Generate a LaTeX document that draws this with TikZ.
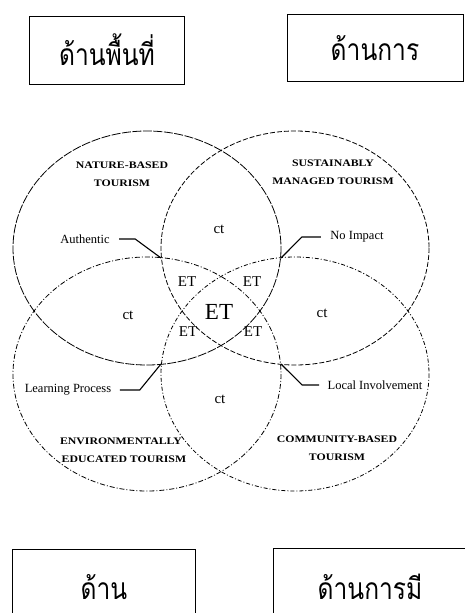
\documentclass[tikz,border=0pt]{standalone}
\usepackage{fontspec}
\setmainfont{Liberation Serif}
\newfontfamily\thaifont[Script=Thai, FakeStretch=0.82]{Loma}
\newfontfamily\capsfont[FakeStretch=1.18]{Liberation Serif}

\begin{document}
\begin{tikzpicture}[x=1pt, y=-1pt,
  every node/.style={font=\fontsize{12.5}{14}\selectfont},
  thaibox/.style={draw, line width=1pt, inner sep=0pt,
    font=\thaifont\fontsize{30}{34}\selectfont},
  zone/.style={font=\capsfont\bfseries\fontsize{10}{12}\selectfont, align=center},
  overlap/.style={font=\fontsize{15}{17}\selectfont},
  leader/.style={line width=1.1pt}]
\clip (0,0) rectangle (465,613);

% Boxes
\node[thaibox, minimum width=155, minimum height=68] (boxA) at (107,50) {ด้านพื้นที่};
\node[thaibox, minimum width=176, minimum height=67] (boxB) at (375,48) {ด้านการ};
\node[thaibox, minimum width=183, minimum height=76] (boxC) at (104,587) {ด้าน};
\node[thaibox, minimum width=194, minimum height=78] (boxD) at (370,587) {ด้านการมี};

% Circles
\draw[line width=0.8pt, dash pattern=on 9pt off 1.5pt] (147,248) ellipse [x radius=134, y radius=117];
\draw[line width=0.8pt, dash pattern=on 5pt off 2pt] (295,248) ellipse [x radius=134, y radius=117];
\draw[line width=0.8pt, dash pattern=on 5pt off 2pt on 1pt off 2pt] (147,374) ellipse [x radius=134, y radius=117];
\draw[line width=0.8pt, dash pattern=on 4pt off 2pt on 1pt off 2pt] (295,374) ellipse [x radius=134, y radius=117];

% Circle names
\node[zone] (nature) at (122,174) {NATURE-BASED\\[6pt]TOURISM};
\node[zone] (managed) at (333,172) {SUSTAINABLY\\[6pt]MANAGED TOURISM};
\node[zone] (educated) at (121,450) {ENVIRONMENTALLY\\[6pt]\ \ EDUCATED TOURISM};
\node[zone] (community) at (337,448) {COMMUNITY-BASED\\[6pt]TOURISM};

% Overlaps
\node[overlap] (ctA) at (219,229) {ct};
\node[overlap] (ctB) at (128,315) {ct};
\node[overlap] (ctC) at (322,313) {ct};
\node[overlap] (ctD) at (220,399) {ct};
\node[overlap] (etA) at (187,282) {ET};
\node[overlap] (etB) at (252,282) {ET};
\node[overlap] (etC) at (188,332) {ET};
\node[overlap] (etD) at (253,332) {ET};
\node[font=\fontsize{23}{25}\selectfont] (etMid) at (219,312) {ET};

% Leaders
\coordinate (pA) at (161,258);
\coordinate (pB) at (281,258);
\coordinate (pC) at (161,364);
\coordinate (pD) at (281,364);
\node (authentic) at (85,239) {Authentic};
\node (impact) at (357,237) {No Impact};
\node (learning) at (68,390) {Learning Process};
\node (local) at (375,385) {Local Involvement};
\draw[leader] (authentic.east) ++(6,0) -- ++(16,0) -- (pA);
\draw[leader] (impact.west) ++(-6,0) -- ++(-19,0) -- (pB);
\draw[leader] (learning.east) ++(5,0) -- ++(20,0) -- (pC);
\draw[leader] (local.west) ++(-5,0) -- ++(-17,0) -- (pD);
\end{tikzpicture}
\end{document}
